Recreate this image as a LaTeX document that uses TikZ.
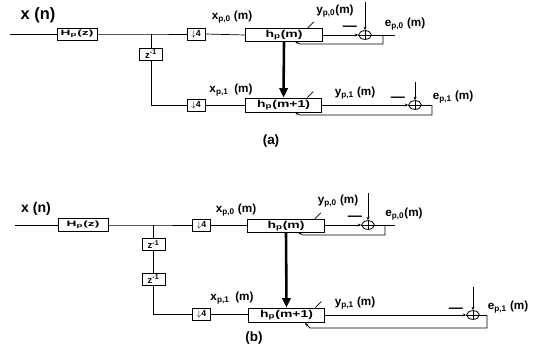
\documentclass[tikz,border=0pt]{standalone}
\usepackage{fontspec}
\setmainfont{Liberation Sans}
\usetikzlibrary{arrows.meta,shapes.geometric}

\begin{document}
\begin{tikzpicture}[
    x=0.03cm, y=-0.03cm,
    blk/.style={draw, line width=0.8pt, inner sep=0pt, minimum height=0.36cm,
                font=\bfseries\fontsize{6.5}{7}\selectfont},
    filt/.style={blk, minimum width=2.3cm, minimum height=0.4cm,
                 font=\bfseries\fontsize{8.5}{9}\selectfont},
    dec/.style={blk, minimum width=0.54cm, font=\bfseries\fontsize{7.5}{8}\selectfont},
    dly/.style={blk, minimum width=0.69cm, font=\bfseries\fontsize{8}{9}\selectfont},
    sig/.style={font=\bfseries\fontsize{10}{12}\selectfont, inner sep=0pt},
    big/.style={font=\bfseries\fontsize{14}{16}\selectfont, inner sep=0pt},
    neg/.style={font=\bfseries\fontsize{12}{12}\selectfont, inner sep=0pt},
    subcap/.style={font=\bfseries\fontsize{11.5}{13}\selectfont, inner sep=0pt},
    adder/.style={draw, ellipse, line width=0.7pt, minimum width=0.38cm,
                  minimum height=0.26cm, inner sep=0pt},
    wire/.style={line width=0.6pt},
    arr/.style={wire, -{Stealth[length=3pt,width=2.5pt]}},
    upd/.style={-{Triangle[length=8pt,width=7pt]}, line width=2.2pt},
]
\useasboundingbox (0,0) rectangle (543,356);

% ── (a): one delay ────────────────────────────────────
\node[big] (xna) at (38,15) {x (n)};
\coordinate (ina) at (10,34);
\node[blk, minimum width=1.2cm] (Hpa) at (77,34) {\scalebox{1.8}[1]{H\textsubscript{p}(z)}};
\coordinate (bra) at (151,34);
\node[dec] (d0a) at (196,34) {$\downarrow$4};
\node[filt] (h0a) at (284,35) {\scalebox{1.4}[1]{h\textsubscript{p}(m)}};
\node[dly] (z1a) at (151,54) {z\textsuperscript{-1}};
\coordinate (cna) at (151,105);
\node[dec] (d1a) at (196,105) {$\downarrow$4};
\node[filt, minimum height=0.42cm] (h1a) at (283.5,105) {\scalebox{1.4}[1]{h\textsubscript{p}(m+1)}};

\node[sig] (x0a) at (232,17) {x\textsubscript{p,0} (m)};
\node[sig] (x1a) at (231,90) {x\textsubscript{p,1}\enspace(m)};
\node[sig] (y0a) at (335,11) {y\textsubscript{p,0}(m)};
\node[sig] (y1a) at (355,93) {y\textsubscript{p,1} (m)};

% adders
\node[adder] (s0a) at (365,35) {};
\draw[wire] (s0a.north) -- (s0a.south) (s0a.west) -- (s0a.east);
\node[neg] (m0a) at (350,28) {—};
\coordinate (t0a) at (365,2);
\coordinate (o0a) at (395,35);
\coordinate (f0a) at (383,35);
\coordinate (g0a) at (300,44);
\node[sig] (e0a) at (405,24) {e\textsubscript{p,0} (m)};

\node[adder] (s1a) at (415,105) {};
\draw[wire] (s1a.north) -- (s1a.south) (s1a.west) -- (s1a.east);
\node[neg] (m1a) at (398,99) {—};
\coordinate (t1a) at (415,82);
\coordinate (f1a) at (432,105);
\coordinate (g1a) at (300,115);
\node[sig] (e1a) at (453,97) {e\textsubscript{p,1} (m)};

% wires
\draw[wire] (ina) -- (Hpa.west);
\draw[wire] (Hpa.east) -- (bra) -- (d0a.west);
\draw[wire] (d0a.east) -- (h0a.west);
\draw[wire] (bra) -- (z1a.north);
\draw[wire] (z1a.south) -- (cna) -- (d1a.west);
\draw[wire] (d1a.east) -- (h1a.west);
\draw[upd] (h0a.south) -- (h1a.north);
\draw[arr] (h0a.east |- s0a) -- (s0a.west);
\draw[arr] (t0a) -- (s0a.north);
\draw[wire] (s0a.east) -- (o0a);
\draw[arr] (f0a) |- (g0a) -- ++(-5,-2.5);
\draw[arr] (h1a.east) -- (s1a.west);
\draw[arr] (t1a) -- (s1a.north);
\draw[wire] (s1a.east) -- (f1a);
\draw[arr] (f1a) |- (g1a) -- ++(-5,-2.5);
\draw[wire] ([xshift=-0.45cm]h0a.north east) -- ++(6,-6);
\draw[wire] ([xshift=-0.45cm]h1a.north east) -- ++(6,-6);

\node[subcap] (capa) at (271,141) {(a)};

% ── (b): two delays ───────────────────────────────────
\node[big, font=\bfseries\fontsize{12}{14}\selectfont] (xnb) at (36,209) {x (n)};
\coordinate (inb) at (15,225);
\node[blk, minimum width=1.5cm, minimum height=0.39cm] (Hpb) at (83,225) {\scalebox{1.8}[1]{H\textsubscript{p}(z)}};
\coordinate (brb) at (153.5,225);
\node[dec] (d0b) at (201.5,225) {$\downarrow$4};
\node[filt] (h0b) at (286,226) {\scalebox{1.4}[1]{h\textsubscript{p}(m)}};
\node[dly] (z1b) at (153.5,244.5) {z\textsuperscript{-1}};
\node[dly] (z2b) at (153.5,279) {z\textsuperscript{-1}};
\coordinate (cnb) at (153.5,314);
\node[dec] (d1b) at (201.5,314) {$\downarrow$4};
\node[filt, minimum height=0.42cm] (h1b) at (286.5,315) {\scalebox{1.4}[1]{h\textsubscript{p}(m+1)}};

\node[sig] (x0b) at (236,210) {x\textsubscript{p,0} (m)};
\node[sig] (x1b) at (232,298) {x\textsubscript{p,1}\enspace(m)};
\node[sig] (y0b) at (338,201) {y\textsubscript{p,0} (m)};
\node[sig] (y1b) at (355,303) {y\textsubscript{p,1} (m)};

% adders
\node[adder] (s0b) at (368,225) {};
\draw[wire] (s0b.north) -- (s0b.south) (s0b.west) -- (s0b.east);
\node[neg] (m0b) at (355,218) {—};
\coordinate (t0b) at (368,193);
\coordinate (o0b) at (395,225);
\coordinate (f0b) at (385,225);
\coordinate (g0b) at (303,235);
\node[sig] (e0b) at (404,214) {e\textsubscript{p,0}(m)};

\node[adder] (s1b) at (473,315) {};
\draw[wire] (s1b.north) -- (s1b.south) (s1b.west) -- (s1b.east);
\node[neg] (m1b) at (456,310) {—};
\coordinate (t1b) at (473,287);
\coordinate (f1b) at (487,315);
\coordinate (g1b) at (310,328);
\node[sig] (e1b) at (508,307) {e\textsubscript{p,1} (m)};

% wires
\draw[wire] (inb) -- (Hpb.west);
\draw[wire] (Hpb.east) -- (brb) -- (d0b.west);
\draw[wire] (d0b.east) -- (h0b.west |- d0b);
\draw[wire] (brb) -- (z1b.north);
\draw[wire] (z1b.south) -- (z2b.north);
\draw[wire] (z2b.south) -- (cnb) -- (d1b.west);
\draw[wire] (d1b.east) -- (h1b.west |- d1b);
\draw[upd] (h0b.south) -- (h1b.north);
\draw[arr] (h0b.east |- s0b) -- (s0b.west);
\draw[arr] (t0b) -- (s0b.north);
\draw[wire] (s0b.east) -- (o0b);
\draw[arr] (f0b) |- (g0b) -- ++(-5,-3);
\draw[arr] (h1b.east |- s1b) -- (s1b.west);
\draw[arr] (t1b) -- (s1b.north);
\draw[wire] (s1b.east) -- (f1b);
\draw[arr] (f1b) |- (g1b) -- ++(-5,-5);
\draw[wire] ([xshift=-0.3cm]h0b.north east) -- ++(6,-6);
\draw[wire] ([xshift=-0.3cm]h1b.north east) -- ++(6,-6);

\node[subcap] (capb) at (254,338) {(b)};

\end{tikzpicture}
\end{document}
